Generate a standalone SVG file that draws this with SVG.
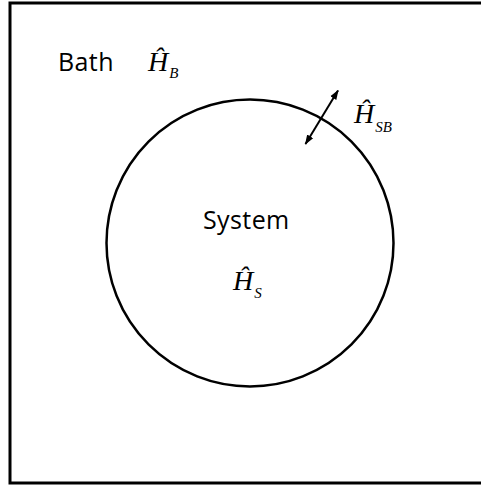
<svg xmlns="http://www.w3.org/2000/svg" width="481" height="485" viewBox="0 0 481 485">
<style>
.lbl{font-family:"Open Sans","Liberation Sans",sans-serif;font-size:25px;fill:#000;letter-spacing:0.4px}
.m{font-family:"Liberation Serif","Times New Roman",serif;font-style:italic;font-size:28px;fill:#000}
.sub{font-size:15px}
</style>
<defs>
<marker id="ah" viewBox="0 0 10 10" refX="9" refY="5" markerWidth="10" markerHeight="10" markerUnits="userSpaceOnUse" orient="auto-start-reverse">
<path d="M0,1.5 L10,5 L0,8.5 Z" fill="#000"/>
</marker>
</defs>
<rect x="0" y="0" width="481" height="485" fill="#fff"/>
<g id="bath">
<rect x="10" y="3" width="475" height="480" fill="none" stroke="#000" stroke-width="3"/>
<text class="lbl" x="58" y="70.5">Bath</text>
<text class="m" x="148" y="70.5">Ĥ<tspan class="sub" dx="1" dy="7.5">B</tspan></text>
</g>
<g id="system">
<circle cx="250" cy="243" r="143.5" fill="none" stroke="#000" stroke-width="2.5"/>
<text class="lbl" x="203" y="228.5">System</text>
<text class="m" x="233" y="290">Ĥ<tspan class="sub" dx="1" dy="8">S</tspan></text>
</g>
<g id="connectors">
<line x1="305.5" y1="144" x2="338" y2="90.5" stroke="#000" stroke-width="2" marker-start="url(#ah)" marker-end="url(#ah)"/>
<text class="m" x="354" y="123">Ĥ<tspan class="sub" dx="1" dy="9">SB</tspan></text>
</g>
</svg>
